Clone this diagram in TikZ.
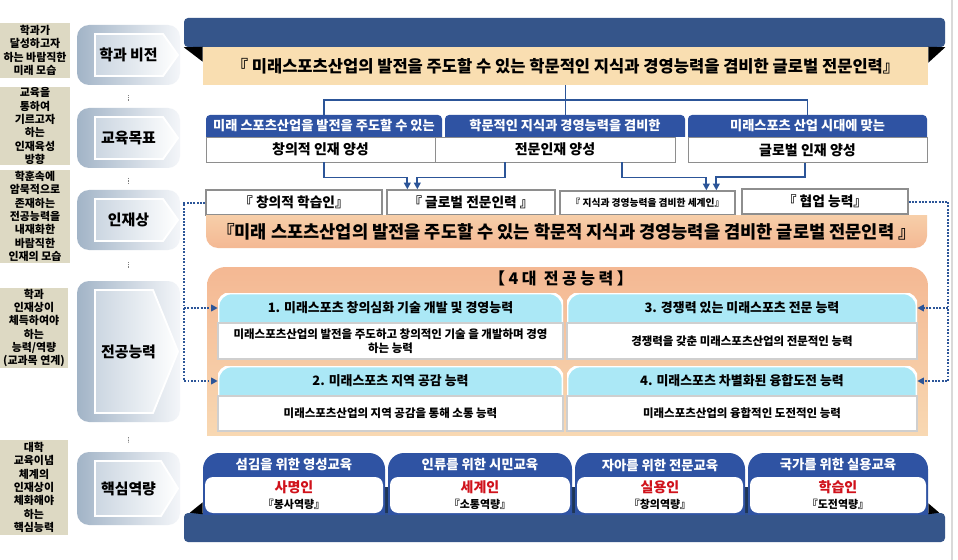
\documentclass[tikz,border=0pt]{standalone}
\usepackage{fontspec}
\setmainfont{Noto Sans CJK KR}
\usetikzlibrary{calc, positioning, arrows.meta}

\definecolor{navy}{HTML}{35558A}
\definecolor{deepnavy}{HTML}{1E3656}
\definecolor{tabblue}{HTML}{2F53A3}
\definecolor{linkblue}{HTML}{2C5598}
\definecolor{visionsand}{HTML}{F9DEB1}
\definecolor{sidesand}{HTML}{DDD9C3}
\definecolor{stagesteel}{HTML}{A2B4C7}
\definecolor{stagemist}{HTML}{F4F6F9}
\definecolor{pentmist}{HTML}{CBD6E1}
\definecolor{peachdeep}{HTML}{F4B893}
\definecolor{peachpale}{HTML}{F9DFB9}
\definecolor{cardcyan}{HTML}{ABE8F6}
\definecolor{edgegray}{HTML}{8E8E8E}
\definecolor{cardedge}{HTML}{CFCFCF}
\definecolor{corered}{HTML}{D0121B}

\begin{document}
\begin{tikzpicture}[x=0.75pt, y=-0.75pt,
  sz/.style 2 args={minimum width=#1*0.75pt, minimum height=#2*0.75pt, inner sep=0pt},
  toptab/.style 2 args={path picture={
      \path[#1, rounded corners=#2] (path picture bounding box.north west)
        rectangle ([yshift=-2*#2]path picture bounding box.south east);}},
  bottab/.style 2 args={path picture={
      \path[#1, rounded corners=#2] ([yshift=2*#2]path picture bounding box.north west)
        rectangle (path picture bounding box.south east);}},
  side/.style={fill=sidesand, align=center,
               font=\fontsize{8.2}{10}\selectfont\bfseries},
  stage/.style={rounded corners=9pt, font=\fontsize{11.2}{13}\selectfont\bfseries,
      path picture={
        \shade[left color=stagesteel, right color=stagemist]
          (path picture bounding box.north west) rectangle (path picture bounding box.south east);
        \draw[sharp corners, white, line width=1.4pt, left color=pentmist, right color=white]
          ([shift={(18,9)}]path picture bounding box.north west)
          -- ([shift={(-#1-2,9)}]path picture bounding box.north east)
          -- ([xshift=-1.5pt]path picture bounding box.east)
          -- ([shift={(-#1-2,-9)}]path picture bounding box.south east)
          -- ([shift={(18,-9)}]path picture bounding box.south west) -- cycle;}},
  headbar/.style={fill=navy, rounded corners=3pt},
  visionbar/.style={fill=visionsand, font=\fontsize{12.4}{14}\selectfont\bfseries},
  goalhead/.style={toptab={fill=tabblue}{3pt}, text=white,
                   font=\fontsize{9.9}{11}\selectfont\bfseries},
  goalbody/.style={fill=white, draw=edgegray, line width=0.7pt,
                   font=\fontsize{10.5}{12}\selectfont\bfseries},
  talent/.style={fill=white, draw=edgegray, line width=1pt,
                 font=\fontsize{10.3}{12}\selectfont\bfseries},
  talentbar/.style={bottab={top color=peachpale, bottom color=peachdeep}{9pt},
                    font=\fontsize{13.2}{15}\selectfont\bfseries},
  majorframe/.style={toptab={top color=peachdeep, bottom color=peachpale}{14pt}},
  cardhead/.style={toptab={fill=cardcyan, draw=white, line width=2pt}{10pt},
                   font=\fontsize{9.7}{11}\selectfont\bfseries},
  cardbody/.style={fill=white, draw=cardedge, line width=1.2pt, align=center,
                   font=\fontsize{8.6}{10.5}\selectfont\bfseries},
  coretab/.style={toptab={fill=tabblue}{12pt}},
  corehead/.style={text=white, font=\fontsize{10}{12}\selectfont\bfseries},
  corebody/.style={fill=white, rounded corners=6pt, align=center,
                   font=\fontsize{8.2}{11.5}\selectfont\bfseries},
  link/.style={draw=linkblue, line width=1.4pt},
  arrowlink/.style={link, -{Triangle[length=5pt, width=5pt]}},
  dotlink/.style={draw=linkblue, line width=1.5pt, dash pattern=on 1.4pt off 1.1pt,
                  -{Triangle[length=5pt, width=5pt]}},
  vdots/.style={draw=gray, line width=0.6pt, dash pattern=on 0.6pt off 0.6pt},
]
\path[use as bounding box, fill=white] (0,0) rectangle (958,560);
\draw[gray!30, line width=0.8pt] (952,0) -- (952,560);

% left column
\node[side, sz={70}{55}] (sideVision) at (35,50.5) {학과가\\달성하고자\\하는 바람직한\\미래 모습};
\node[side, sz={70}{78}] (sideGoal) at (35,126) {교육을\\통하여\\기르고자\\하는\\인재육성\\방향};
\node[side, sz={70}{93}] (sideTalent) at (35,216.5) {학훈속에\\암묵적으로\\존재하는\\전공능력을\\내재화한\\바람직한\\인재의 모습};
\node[side, sz={68}{80}] (sideMajor) at (34,328) {학과\\인재상이\\체득하여야\\하는\\능력/역량\\(교과목 연계)};
\node[side, sz={68}{95}] (sideCore) at (34,487.5) {대학\\교육이념\\체계의\\인재상이\\체화해야\\하는\\핵심능력};

% stages
\node[stage=15, sz={103}{60}] (stVision) at (128.5,55) {학과 비전};
\node[stage=15, sz={103}{60}] (stGoal) at (128.5,138) {교육목표};
\node[stage=15, sz={103}{60}] (stTalent) at (128.5,220) {인재상};
\node[stage=25, sz={103}{141}] (stMajor) at (128.5,351.5) {전공능력};
\node[stage=17, sz={103}{73}] (stCore) at (128.5,488.5) {핵심역량};
\draw[vdots] ($(stVision.south)!0.45!(stGoal.north)$) -- ($(stVision.south)!0.7!(stGoal.north)$);
\draw[vdots] ($(stGoal.south)!0.45!(stTalent.north)$) -- ($(stGoal.south)!0.7!(stTalent.north)$);
\draw[vdots] ($(stTalent.south)!0.4!(stMajor.north)$) -- ($(stTalent.south)!0.6!(stMajor.north)$);
\draw[vdots] ($(stMajor.south)!0.5!(stCore.north)$) -- ($(stMajor.south)!0.7!(stCore.north)$);

% vision
\node[headbar, sz={761}{29}] (visionHead) at (564.5,32.5) {};
\node[visionbar, sz={725}{38}] (vision) at (565.5,66) {『 미래스포츠산업의 발전을 주도할 수 있는 학문적인 지식과 경영능력을 겸비한 글로벌 전문인력』};
\fill[black] (visionHead.south west) -- (vision.north west) -- ([shift={(0,15)}]vision.north west) -- cycle;
\fill[black] (visionHead.south east) -- (vision.north east) -- ([shift={(0,16)}]vision.north east) -- cycle;

% goals
\node[goalhead, sz={236}{22}] (goalHead1) at (324,126) {미래 스포츠산업을 발전을 주도할 수 있는};
\node[goalbody, sz={229}{25}] (goalBody1) at (320.5,149.5) {창의적 인재 양성};
\node[goalhead, sz={240}{22}] (goalHead2) at (565,126) {학문적인 지식과 경영능력을 겸비한};
\node[goalbody, sz={240}{25}] (goalBody2) at (555,149.5) {전문인재 양성};
\node[goalhead, sz={239}{22}] (goalHead3) at (807.5,126) {미래스포츠 산업 시대에 맞는};
\node[goalbody, sz={239}{25}] (goalBody3) at (807.5,150) {글로벌 인재 양성};

\coordinate (split) at ($(vision.south)+(0,15)$);
\draw[link] (vision.south) -- (vision.south |- goalHead2.north);
\draw[link] (goalHead1.north) |- (split) -| (goalHead3.north);

% talents
\node[talent, sz={176}{25}] (talent1) at (294,202.5) {『 창의적 학습인』};
\node[talent, sz={168}{25}] (talent2) at (471,202.5) {『 글로벌 전문인력 』};
\node[talent, sz={175}{24}, font=\fontsize{7.3}{8}\selectfont\bfseries] (talent3) at (647.5,203) {『 지식과 경영능력을 겸비한 세계인』};
\node[talent, sz={166}{25}] (talent4) at (825,201.5) {『 협업 능력』};
\node[talentbar, sz={721}{33}] (talentBar) at (566.5,231.5) {『미래 스포츠산업의 발전을 주도할 수 있는 학문적 지식과 경영능력을 겸비한 글로벌 전문인력 』};

\draw[arrowlink] ([shift={(3.5,0)}]goalBody1.south) -- ++(0,15) -| ([shift={(21,0)}]talent2.north west);
\draw[arrowlink] ([shift={(-50,0)}]goalBody2.south) -- ++(0,15) -| ([shift={(31,0)}]talent2.north west);
\draw[arrowlink] ([shift={(67,0)}]goalBody2.south) -- ++(0,15) -| ([shift={(147,0)}]talent3.north west);
\draw[arrowlink] ([shift={(-2.5,0)}]goalBody3.south) -- ++(0,14) -| ([shift={(157,0)}]talent3.north west);

% major competencies
\node[majorframe, sz={721}{168}] (majorFrame) at (567.5,351) {};
\node[font=\fontsize{12}{14}\selectfont\bfseries\addfontfeatures{LetterSpace=22}] (majorTitle) at (561,278) {【4대 전공능력】};

\node[cardhead, sz={345}{30}] (cardHead1) at (390.5,308) {1. 미래스포츠 창의심화 기술 개발 및 경영능력};
\node[cardbody, sz={345}{36}] (cardBody1) at (390.5,341) {미래스포츠산업의 발전을 주도하고 창의적인 기술 을 개발하며 경영\\하는 능력};
\node[cardhead, sz={345}{30}] (cardHead2) at (390.5,381) {2. 미래스포츠 지역 공감 능력};
\node[cardbody, sz={345}{35}] (cardBody2) at (390.5,413.5) {미래스포츠산업의 지역 공감을 통해 소통 능력};
\node[cardhead, sz={350}{30}] (cardHead3) at (742,308) {3. 경쟁력 있는 미래스포츠 전문 능력};
\node[cardbody, sz={350}{36}] (cardBody3) at (742,341) {경쟁력을 갖춘 미래스포츠산업의 전문적인 능력};
\node[cardhead, sz={350}{30}] (cardHead4) at (742,381) {4. 미래스포츠 차별화된 융합도전 능력};
\node[cardbody, sz={350}{35}] (cardBody4) at (742,413.5) {미래스포츠산업의 융합적인 도전적인 능력};

\coordinate (leftRail) at (184,381);
\coordinate (rightRail) at (948,381);
\draw[dotlink] (talent1.west) -| (leftRail) -- (cardHead2.west);
\draw[dotlink] (leftRail |- cardHead1.west) -- (cardHead1.west);
\draw[dotlink] (talent4.east) -| (rightRail) -- (cardHead4.east);
\draw[dotlink] (rightRail |- cardHead3.east) -- (cardHead3.east);

% core competencies
\node[fill=deepnavy, sz={725}{27}] (coreBack) at (565.5,500.5) {};
\node[headbar, sz={761}{29}] (coreFoot) at (564.5,527.5) {};
\fill[black] ([shift={(6,0)}]coreFoot.north west) -- (coreBack.south west) -- ([shift={(0,-12)}]coreBack.south west) -- cycle;
\fill[black] (coreBack.south east) -- ([shift={(-6,0)}]coreFoot.north east) -- ([shift={(0,-11)}]coreBack.south east) -- cycle;

\node[coretab, sz={182}{61}] (coreTab1) at (294,483.5) {};
\node[corehead] (coreHead1) at (294,465) {섬김을 위한 영성교육};
\node[corebody, sz={178}{36}] (coreBody1) at (294,495) {\textcolor{corered}{\fontsize{10.5}{13}\selectfont 사명인}\\『봉사역량』};
\node[coretab, sz={184}{61}] (coreTab2) at (480,483.5) {};
\node[corehead] (coreHead2) at (480,465) {인류를 위한 시민교육};
\node[corebody, sz={180}{36}] (coreBody2) at (480,495) {\textcolor{corered}{\fontsize{10.5}{13}\selectfont 세계인}\\『소통역량』};
\node[coretab, sz={170}{61}] (coreTab3) at (660,483.5) {};
\node[corehead] (coreHead3) at (660,465) {자아를 위한 전문교육};
\node[corebody, sz={166}{36}] (coreBody3) at (660,495) {\textcolor{corered}{\fontsize{10.5}{13}\selectfont 실용인}\\『창의역량』};
\node[coretab, sz={180}{61}] (coreTab4) at (838,483.5) {};
\node[corehead] (coreHead4) at (838,465) {국가를 위한 실용교육};
\node[corebody, sz={176}{36}] (coreBody4) at (838,495) {\textcolor{corered}{\fontsize{10.5}{13}\selectfont 학습인}\\『도전역량』};
\end{tikzpicture}
\end{document}
